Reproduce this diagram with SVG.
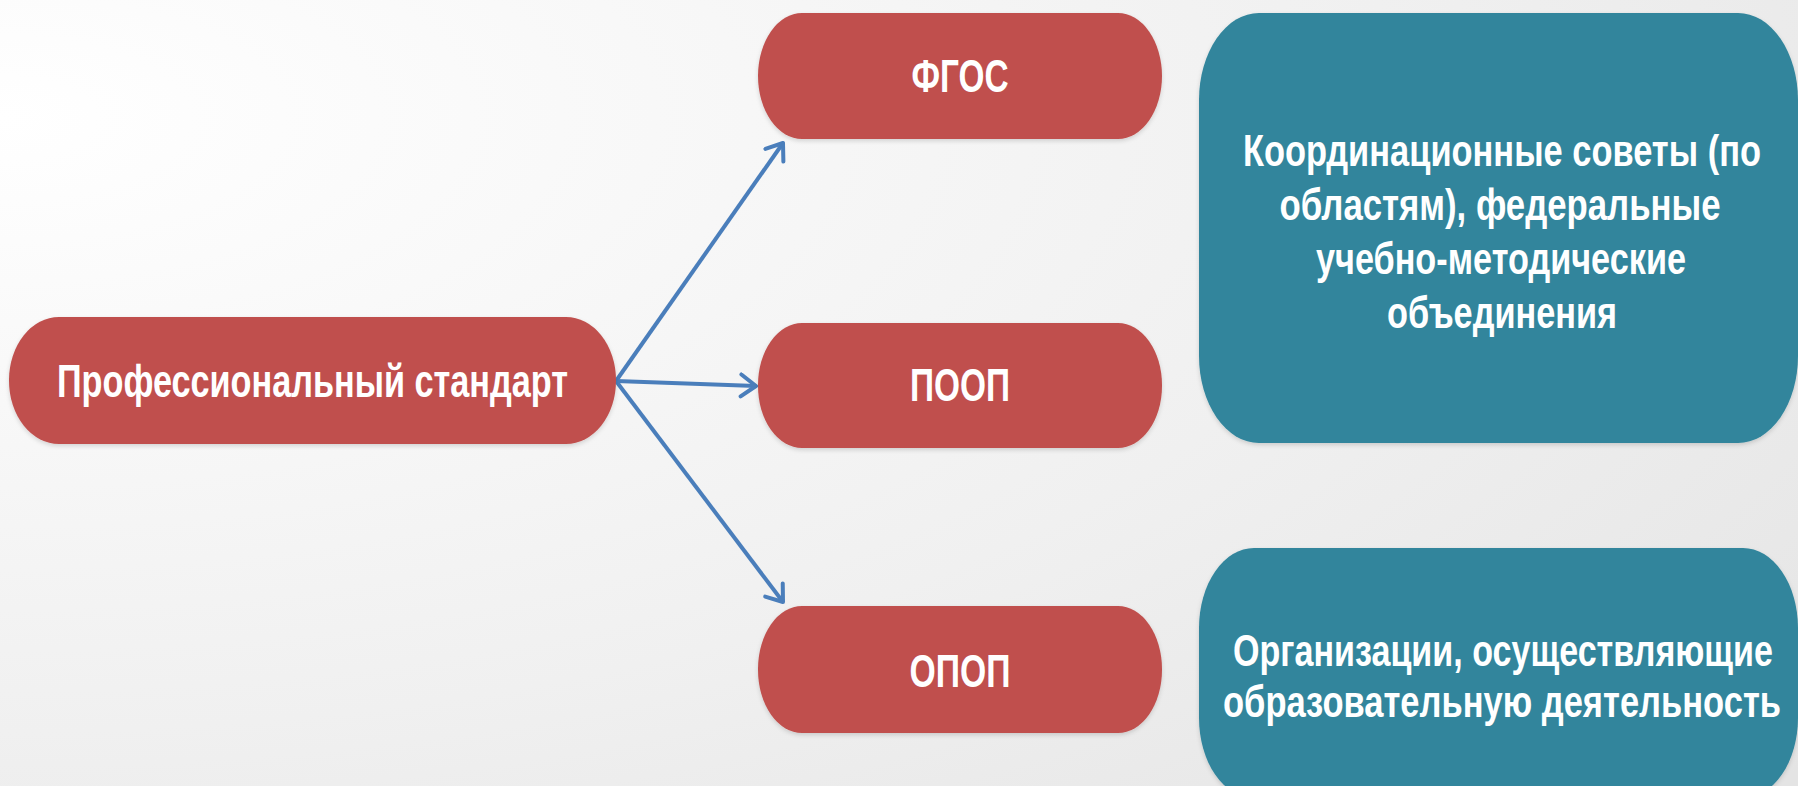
<svg xmlns="http://www.w3.org/2000/svg" width="1798" height="786" viewBox="0 0 1798 786">
<defs>
<radialGradient id="bg" cx="0" cy="0.15" r="1.3" gradientUnits="objectBoundingBox">
<stop offset="0" stop-color="#ffffff"/>
<stop offset="0.6" stop-color="#f0f0f0"/>
<stop offset="1" stop-color="#e4e4e4"/>
</radialGradient>
<marker id="arr" markerWidth="24" markerHeight="28" refX="18" refY="13" orient="auto" markerUnits="userSpaceOnUse">
<path d="M3 2 L18 13 L3 24" fill="none" stroke="#4A7EBB" stroke-width="4" stroke-linecap="round" stroke-linejoin="round"/>
</marker>
<filter id="sh" x="-5%" y="-5%" width="110%" height="115%">
<feDropShadow dx="0" dy="2" stdDeviation="2" flood-color="#000" flood-opacity="0.15"/>
</filter>
</defs>
<style>
.red{fill:#C0504D;filter:url(#sh)}
.teal{fill:#31859C;filter:url(#sh)}
.t{font-family:"Liberation Sans Narrow","Liberation Sans",Arial,sans-serif;font-weight:bold;fill:#ffffff;text-anchor:middle}
.c{fill:none;stroke:#4A7EBB;stroke-width:4;marker-end:url(#arr)}
</style>
<rect x="0" y="0" width="1798" height="786" fill="url(#bg)"/>
<g id="connectors">
<path class="c" d="M616 381 L783 143"/>
<path class="c" d="M616 381 L756 386"/>
<path class="c" d="M616 381 L783 602"/>
</g>
<g id="node-prof">
<rect class="red" x="9" y="317" width="607" height="127" rx="50" ry="63"/>
<text class="t" x="312.5" y="397" font-size="47" textLength="511" lengthAdjust="spacingAndGlyphs">Профессиональный стандарт</text>
</g>
<g id="node-fgos">
<rect class="red" x="758" y="13" width="404" height="126" rx="44" ry="63"/>
<text class="t" x="960" y="92" font-size="46" textLength="97" lengthAdjust="spacingAndGlyphs">ФГОС</text>
</g>
<g id="node-poop">
<rect class="red" x="758" y="323" width="404" height="125" rx="44" ry="62"/>
<text class="t" x="960" y="401" font-size="46" textLength="100" lengthAdjust="spacingAndGlyphs">ПООП</text>
</g>
<g id="node-opop">
<rect class="red" x="758" y="606" width="404" height="127" rx="44" ry="63"/>
<text class="t" x="960" y="687" font-size="46" textLength="101" lengthAdjust="spacingAndGlyphs">ОПОП</text>
</g>
<g id="node-coord">
<rect class="teal" x="1199" y="13" width="599" height="430" rx="60" ry="87"/>
<text class="t" x="1502" y="166" font-size="45" textLength="518" lengthAdjust="spacingAndGlyphs">Координационные советы (по</text>
<text class="t" x="1500" y="220" font-size="45" textLength="441" lengthAdjust="spacingAndGlyphs">областям), федеральные</text>
<text class="t" x="1501" y="274" font-size="45" textLength="370" lengthAdjust="spacingAndGlyphs">учебно-методические</text>
<text class="t" x="1502" y="328" font-size="45" textLength="230" lengthAdjust="spacingAndGlyphs">объединения</text>
</g>
<g id="node-org">
<rect class="teal" x="1199" y="548" width="599" height="250" rx="55" ry="80"/>
<text class="t" x="1503" y="666" font-size="45" textLength="540" lengthAdjust="spacingAndGlyphs">Организации, осуществляющие</text>
<text class="t" x="1502" y="717" font-size="45" textLength="558" lengthAdjust="spacingAndGlyphs">образовательную деятельность</text>
</g>
</svg>
